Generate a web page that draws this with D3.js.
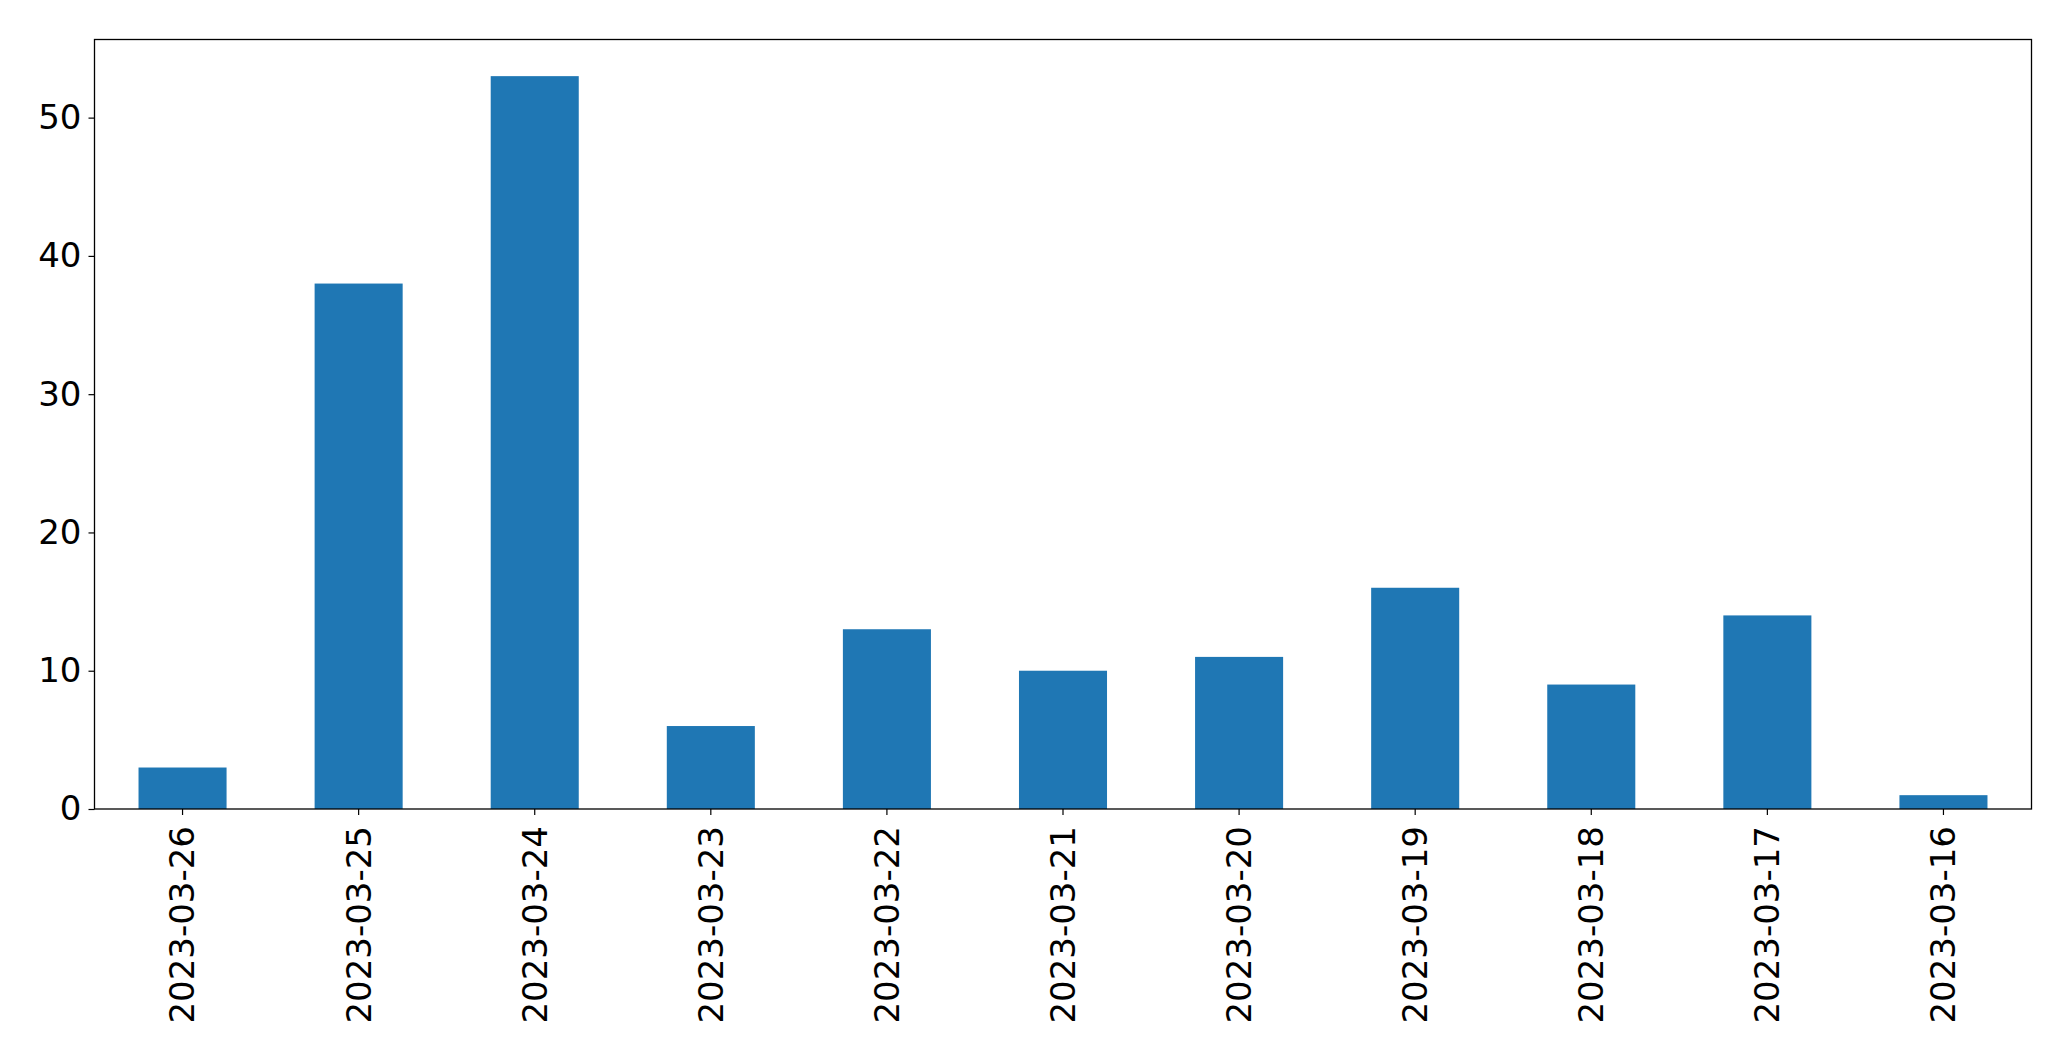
<!DOCTYPE html>
<html><head><meta charset="utf-8">
<script src="https://cdn.jsdelivr.net/npm/d3@7"></script>
<style>body{margin:0;background:#fff}svg{display:block}</style>
</head><body>
<script>
const categories = ["2023-03-26","2023-03-25","2023-03-24","2023-03-23","2023-03-22","2023-03-21","2023-03-20","2023-03-19","2023-03-18","2023-03-17","2023-03-16"];
const values = [3, 38, 53, 6, 13, 10, 11, 16, 9, 14, 1];
const yTicks = [0, 10, 20, 30, 40, 50];

const W = 2071, H = 1061;
const m = {left: 94.5, right: 2031.5, top: 39.5, bottom: 809};
const svg = d3.select("body").append("svg").attr("width", W).attr("height", H);

const x = d3.scaleBand().domain(categories).range([m.left, m.right]).paddingInner(0.5).paddingOuter(0.25);
const y = d3.scaleLinear().domain([0, d3.max(values) * 1.05]).range([m.bottom, m.top]);

svg.append("g").selectAll("rect").data(values).join("rect")
  .attr("x", (d, i) => x(categories[i]))
  .attr("width", x.bandwidth())
  .attr("y", d => y(d))
  .attr("height", d => y(0) - y(d))
  .attr("fill", "#1f77b4");

const font = "DejaVu Sans, sans-serif";
const yAxis = svg.append("g").attr("transform", `translate(${m.left},0)`)
  .call(d3.axisLeft(y).tickValues(yTicks).tickSize(6).tickPadding(7));
yAxis.select(".domain").remove();
yAxis.selectAll("line").attr("stroke", "#000").attr("stroke-width", 1.2);
yAxis.selectAll("text").attr("font-family", font).attr("font-size", 34).attr("fill", "#000");

const xAxis = svg.append("g").attr("transform", `translate(0,${m.bottom})`)
  .call(d3.axisBottom(x).tickSize(6).tickSizeOuter(0));
xAxis.select(".domain").remove();
xAxis.selectAll("line").attr("stroke", "#000").attr("stroke-width", 1.2);
xAxis.selectAll("text")
  .attr("font-family", font).attr("font-size", 34).attr("fill", "#000")
  .attr("transform", "rotate(-90)")
  .attr("text-anchor", "end")
  .attr("x", -17).attr("y", 0).attr("dy", "0.35em");

svg.append("rect").attr("x", m.left).attr("y", m.top)
  .attr("width", m.right - m.left).attr("height", m.bottom - m.top)
  .attr("fill", "none").attr("stroke", "#000").attr("stroke-width", 1.3);
</script>
</body></html>
